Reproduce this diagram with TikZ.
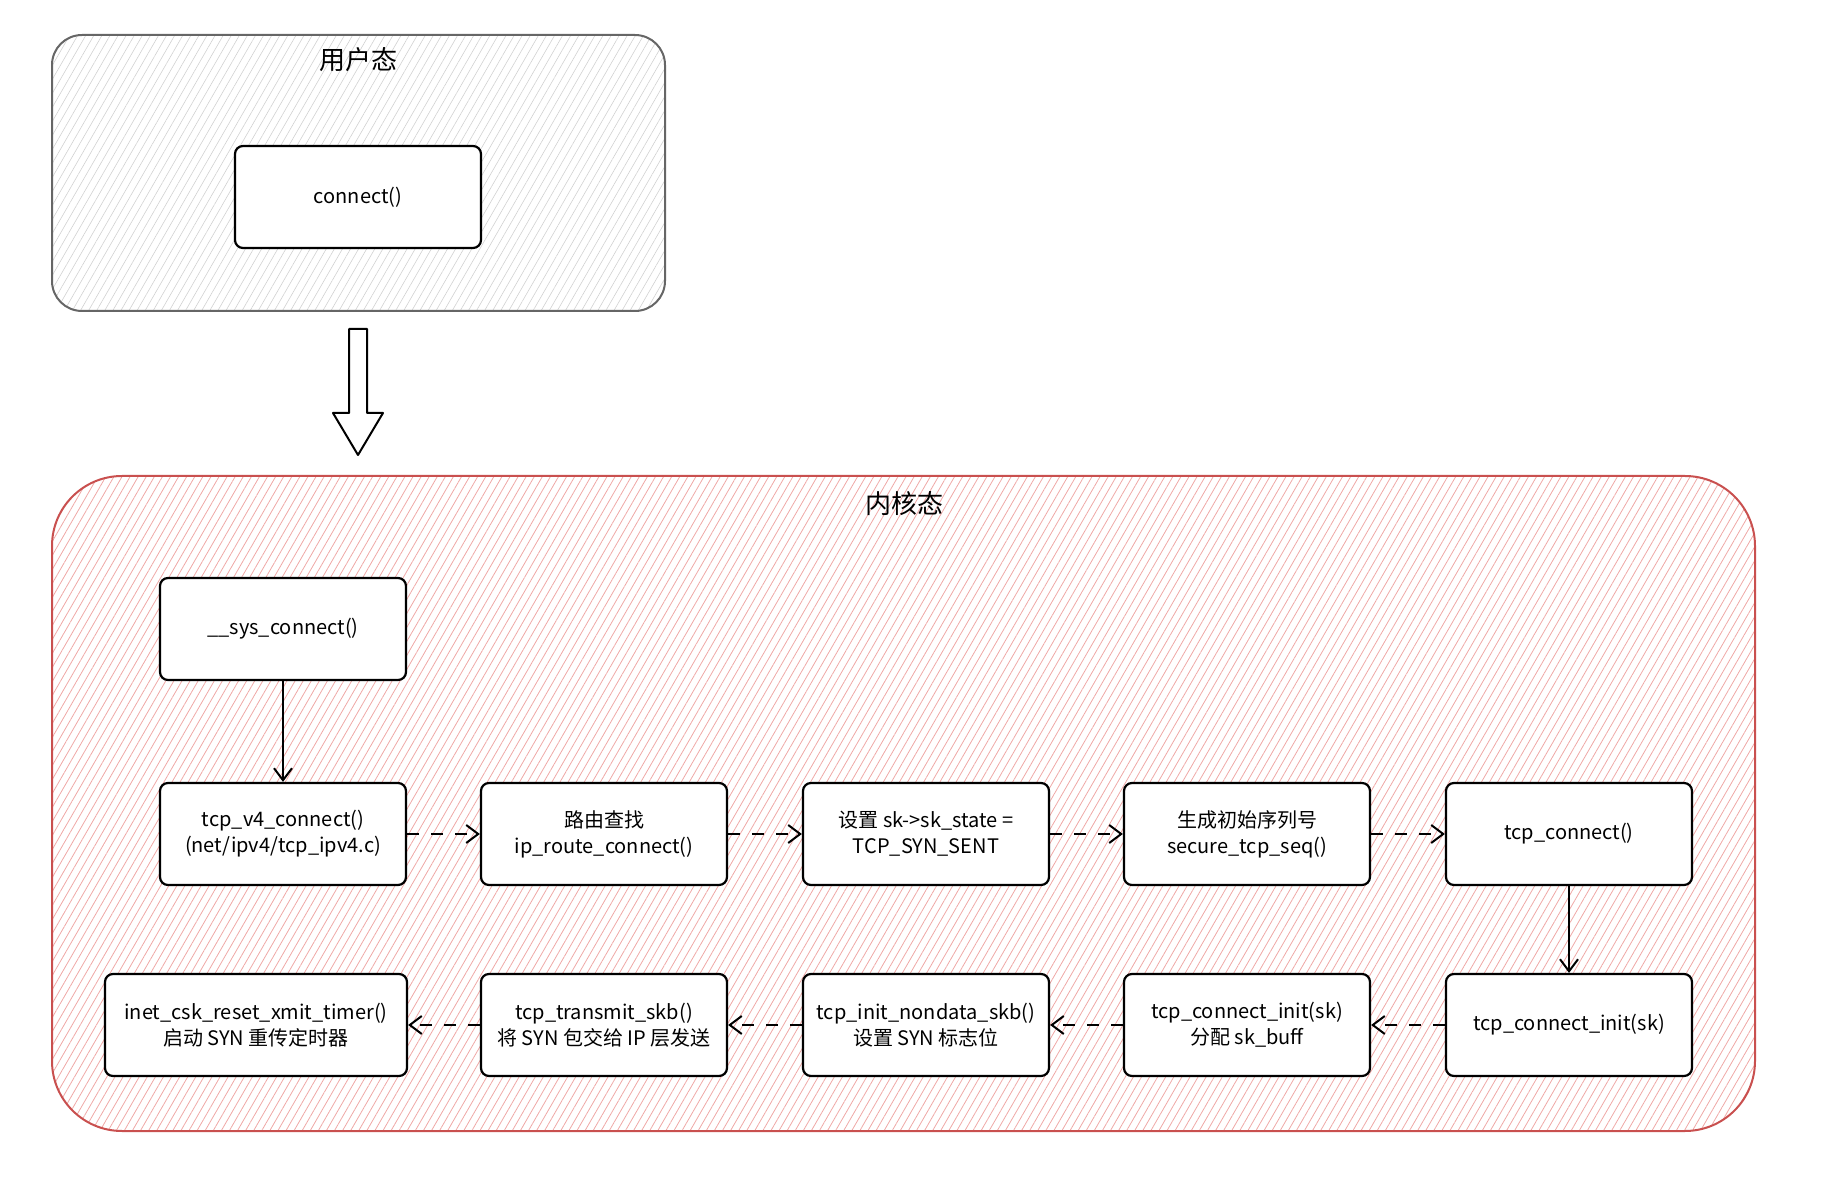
\documentclass[tikz,border=0pt]{standalone}
\usepackage{fontspec}
\setmainfont{Noto Sans CJK SC}
\usetikzlibrary{arrows.meta,patterns.meta}
\definecolor{kred}{HTML}{C9504F}
\definecolor{kpink}{HTML}{EFA8A6}

\begin{document}
\begin{tikzpicture}[x=0.5pt,y=-0.5pt,
  box/.style={draw,line width=1.1pt,fill=white,rounded corners=4pt,minimum width=123pt,minimum height=51pt,align=center,inner sep=2pt,font=\fontsize{10}{13}\selectfont},
  title/.style={font=\fontsize{13}{15}\selectfont},
  flow/.style={-{Straight Barb[length=6pt,width=9pt]},line width=1pt},
  hop/.style={flow,dash pattern=on 6pt off 6pt}]
\useasboundingbox (0,0) rectangle (1822,1192);
% user space
\draw[rounded corners=15pt,black!60,line width=1pt,pattern={Lines[angle=60,distance=3.5pt,line width=0.3pt]},pattern color=black!18] (52,35) rectangle (665,311);
\node[title] (usertitle) at (358,60) {用户态};
\node[box] (user) at (358,197) {connect()};
% big arrow down
\coordinate (down) at (358,329);
\draw[line width=1pt,fill=white,line join=round] (down) ++(-9,0) -- ++(18,0) -- ++(0,84) -- ++(16,0) -- ++(-25,42) -- ++(-25,-42) -- ++(16,0) -- cycle;
% kernel space
\draw[rounded corners=35pt,kred,line width=1pt,pattern={Lines[angle=60,distance=3.5pt,line width=0.4pt]},pattern color=kpink] (52,476) rectangle (1755,1131);
\node[title] (kerneltitle) at (904,504) {内核态};
\node[box] (sys) at (283,629) {\_\_sys\_connect()};
% first row
\node[box] (v4) at (283,834) {tcp\_v4\_connect()\\(net/ipv4/tcp\_ipv4.c)};
\node[box] (route) at (604,834) {路由查找\\ip\_route\_connect()};
\node[box] (state) at (926,834) {设置 sk->sk\_state =\\TCP\_SYN\_SENT};
\node[box] (seq) at (1247,834) {生成初始序列号\\secure\_tcp\_seq()};
\node[box] (tcpc) at (1569,834) {tcp\_connect()};
% second row
\node[box] (init) at (1569,1025) {tcp\_connect\_init(sk)};
\node[box] (alloc) at (1247,1025) {tcp\_connect\_init(sk)\\分配 sk\_buff};
\node[box] (nondata) at (926,1025) {tcp\_init\_nondata\_skb()\\设置 SYN 标志位};
\node[box] (xmit) at (604,1025) {tcp\_transmit\_skb()\\将 SYN 包交给 IP 层发送};
\node[box,minimum width=151pt] (timer) at (256,1025) {inet\_csk\_reset\_xmit\_timer()\\启动 SYN 重传定时器};
% calls
\draw[flow] (sys) -- (v4);
\draw[hop] (v4) -- (route);
\draw[hop] (route) -- (state);
\draw[hop] (state) -- (seq);
\draw[hop] (seq) -- (tcpc);
\draw[flow] (tcpc) -- (init);
\draw[hop] (init) -- (alloc);
\draw[hop] (alloc) -- (nondata);
\draw[hop] (nondata) -- (xmit);
\draw[hop] (xmit) -- (timer);
\end{tikzpicture}
\end{document}
